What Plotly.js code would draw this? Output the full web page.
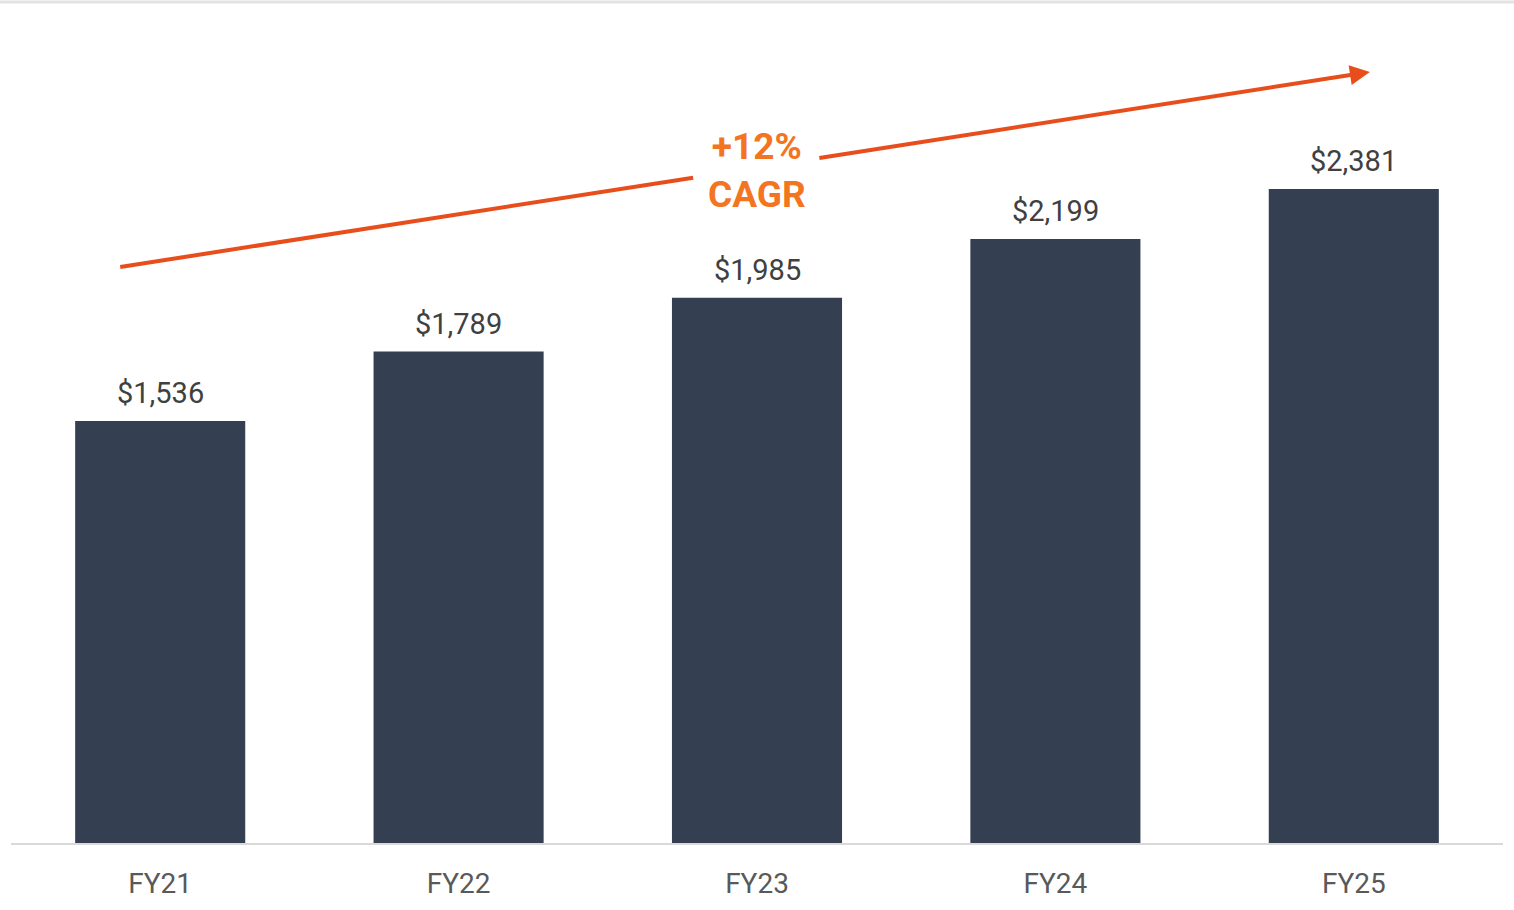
<!DOCTYPE html>
<html>
<head>
<meta charset="utf-8">
<script src="https://cdn.plot.ly/plotly-3.0.1.min.js"></script>
<style>html,body{margin:0;padding:0;background:#fff;}#chart{width:1514px;height:910px;}</style>
</head>
<body>
<div id="chart"></div>
<script>
const categories = ["FY21", "FY22", "FY23", "FY24", "FY25"];
const values = [1536, 1789, 1985, 2199, 2381];
const valueLabels = ["$1,536", "$1,789", "$1,985", "$2,199", "$2,381"];
const cagrText = "+12%<br>CAGR";

const barColor = "#343F52";
const lineColor = "#E84E1B";

const trace = {
  type: "bar",
  x: categories,
  y: values,
  marker: {color: barColor},
  hoverinfo: "skip"
};

const annotations = categories.map((c, i) => ({
  x: c, y: values[i], xref: "x", yref: "y",
  text: valueLabels[i], showarrow: false,
  yanchor: "bottom", yshift: 9,
  font: {family: "Roboto, sans-serif", size: 29, color: "#404040"}
}));

// CAGR label
annotations.push({
  x: 2, y: 2450, xref: "x", yref: "y",
  text: cagrText, showarrow: false,
  font: {family: "Roboto, sans-serif", size: 37, color: "#F47521", weight: 700},
  align: "center", yanchor: "middle"
});
// arrow head segment
annotations.push({
  x: 4.054, y: 2807, xref: "x", yref: "y",
  ax: 2.204, ay: 2493, axref: "x", ayref: "y",
  text: "", showarrow: true, arrowhead: 2, arrowsize: 1, arrowwidth: 4,
  arrowcolor: lineColor, standoff: 0, startstandoff: 0
});

const shapes = [
  {type: "line", xref: "x", yref: "y", x0: -0.134, y0: 2097, x1: 1.786, y1: 2422,
   line: {color: lineColor, width: 4}},
  {type: "line", xref: "paper", yref: "paper", x0: -0.01, x1: 1.01, y0: 0.9976, y1: 0.9976,
   line: {color: "#E3E3E3", width: 3}}
];

const layout = {
  width: 1514, height: 910,
  margin: {l: 11, r: 11, t: 0, b: 67},
  paper_bgcolor: "#ffffff", plot_bgcolor: "#ffffff",
  bargap: 0.43,
  showlegend: false,
  xaxis: {
    type: "category",
    showline: true, linecolor: "#D9D9D9", linewidth: 2,
    showgrid: false, zeroline: false, ticks: "",
    ticklabelstandoff: 14,
    tickfont: {family: "Roboto, sans-serif", size: 28, color: "#595959"}
  },
  yaxis: {
    range: [0, 3069], visible: false, showgrid: false, zeroline: false
  },
  annotations: annotations,
  shapes: shapes
};

Plotly.newPlot("chart", [trace], layout, {displayModeBar: false, staticPlot: true});
</script>
</body>
</html>
